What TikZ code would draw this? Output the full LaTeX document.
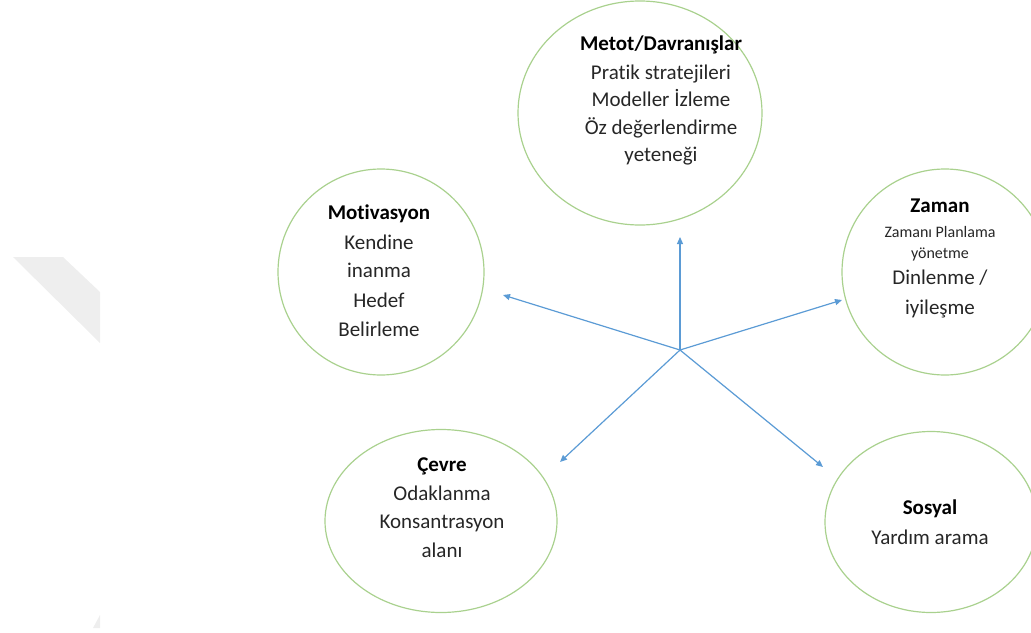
\documentclass[tikz,border=0pt]{standalone}
\usepackage{fontspec}
\setmainfont{Carlito}[Ligatures=NoCommon]
\usetikzlibrary{shapes.geometric,arrows.meta}
\definecolor{ringgreen}{HTML}{A9D18E}
\definecolor{arrowblue}{HTML}{5B9BD5}
\definecolor{wmgrey}{HTML}{EEEEEE}
\definecolor{txt}{HTML}{262626}
\newcommand{\smalltxt}{\fontsize{16}{21}\selectfont}
\tikzset{
  ring/.style={draw=ringgreen, line width=1.2pt, ellipse, inner sep=0pt},
  txtnode/.style={align=center, text=txt, font=\fontsize{21}{28.5}\selectfont, inner sep=0pt},
  spoke/.style={draw=arrowblue, line width=1.2pt, -{Triangle[length=7pt,width=6pt]}}
}
\begin{document}
\begin{tikzpicture}[x=1pt,y=-1pt]
\useasboundingbox (0,0) rectangle (1031,632);
% faint watermark shapes
\fill[wmgrey] (13,257) -- (63,257) -- (100,292) -- (100,343) -- cycle;
\fill[wmgrey] (100,615) -- (100,628) -- (93,628) -- cycle;
% rings
\node[ring, minimum width=244pt, minimum height=224pt] (metot) at (640,113) {};
\node[ring, minimum width=206pt, minimum height=206pt] (motiv) at (381,272) {};
\node[ring, minimum width=206pt, minimum height=206pt] (zaman) at (945,272) {};
\node[ring, minimum width=232pt, minimum height=183pt] (cevre) at (441,521) {};
\node[ring, minimum width=212pt, minimum height=181pt] (sosyal) at (931,522) {};
% texts
\node[txtnode, anchor=north] (tmetot) at (661,36) {\textbf{\color{black}Metot/Davranışlar}\\[0pt]Pratik stratejileri\\[-1pt]Modeller İzleme\\[-1pt]Öz değerlendirme\\[-1pt]yeteneği};
\node[txtnode, anchor=north] (tmotiv) at (379,205) {\textbf{\color{black}Motivasyon}\\[1pt]Kendine\\[0pt]inanma\\[1pt]Hedef\\[1pt]Belirleme};
\node[txtnode, anchor=north] (tzaman) at (940,199) {\textbf{\color{black}Zaman}\\[-4pt]\smalltxt Zamanı Planlama\\[-7pt]\smalltxt yönetme\\[-3pt]Dinlenme /\\[2pt]iyileşme};
\node[txtnode, anchor=north] (tcevre) at (442,458) {\textbf{\color{black}Çevre}\\Odaklanma\\Konsantrasyon\\alanı};
\node[txtnode, anchor=north] (tsosyal) at (930,500) {\textbf{\color{black}Sosyal}\\[1pt]Yardım arama};
% spokes
\coordinate (hub) at (680,350);
\coordinate (eup) at (680,237);
\coordinate (eleft) at (503,295);
\coordinate (eright) at (842,300);
\coordinate (edl) at (560,462);
\coordinate (edr) at (823,467);
\draw[spoke] (hub) -- (eup);
\draw[spoke] (hub) -- (eleft);
\draw[spoke] (hub) -- (eright);
\draw[spoke] (hub) -- (edl);
\draw[spoke] (hub) -- (edr);
\end{tikzpicture}
\end{document}
